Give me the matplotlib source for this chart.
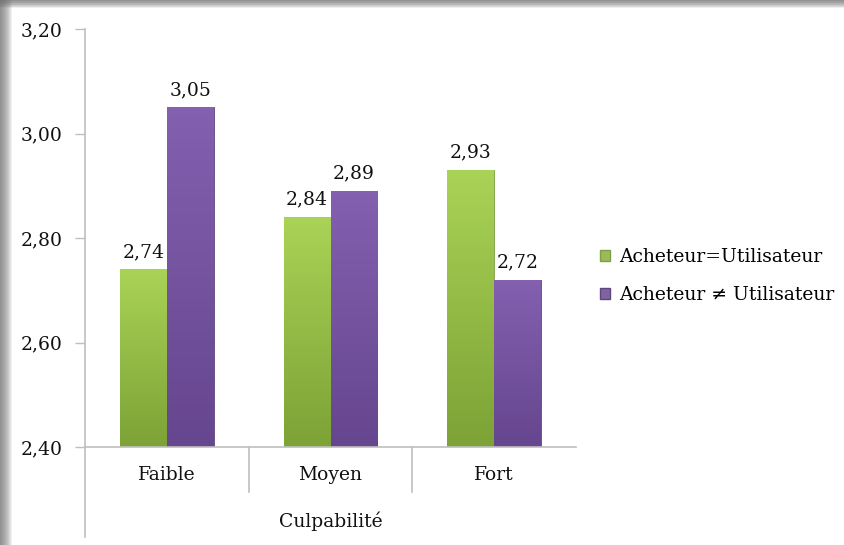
import matplotlib
matplotlib.use("Agg")
import matplotlib.pyplot as plt
import numpy as np
from matplotlib.patches import Rectangle, Patch
from matplotlib.transforms import blended_transform_factory

categories = ["Faible", "Moyen", "Fort"]
same_user = [2.74, 2.84, 2.93]
diff_user = [3.05, 2.89, 2.72]
series_names = ["Acheteur=Utilisateur", "Acheteur \u2260 Utilisateur"]
yticks = [2.40, 2.60, 2.80, 3.00, 3.20]

plt.rcParams['font.family'] = ['DejaVu Serif']
FS = 13.5
TXT = '#111111'

W, H = 844, 545
fig = plt.figure(figsize=(W / 100, H / 100), dpi=100)
fig.patch.set_facecolor('#ffffff')

# grey shadow frame on top and left
for i in range(12):
    fig.patches.append(Rectangle((0, 0), (12 - i) / W, 1, transform=fig.transFigure,
                                 facecolor='#707070', alpha=0.1, edgecolor='none', zorder=0))
    fig.patches.append(Rectangle((0, 1 - (8 - i * 0.66) / H), 1, (8 - i * 0.66) / H,
                                 transform=fig.transFigure, facecolor='#707070', alpha=0.1,
                                 edgecolor='none', zorder=0))

ax = fig.add_axes([85 / W, 1 - 447 / H, (576 - 85) / W, (447 - 29) / H])
x = np.arange(len(categories))
bw = 0.287
green = ax.bar(x - bw / 2, same_user, bw, color='#9bbb59', edgecolor='#7f9f42', linewidth=0.6, zorder=2)
purple = ax.bar(x + bw / 2, diff_user, bw, color='#8064a2', edgecolor='#5e467f', linewidth=0.6, zorder=2)

def shade(bars, top, bottom):
    c1 = np.array(matplotlib.colors.to_rgb(top))
    c2 = np.array(matplotlib.colors.to_rgb(bottom))
    t = np.linspace(0, 1, 64)[:, None]
    grad = (c1 * (1 - t) + c2 * t)[:, None, :]
    for b in bars:
        bx = b.get_x()
        im = ax.imshow(grad, extent=[bx, bx + b.get_width(), 2.40, b.get_height()],
                       aspect='auto', origin='upper', zorder=2.5)
        im.set_clip_path(b)

shade(green, '#a9d356', '#7da236')
shade(purple, '#8360b0', '#66468e')

ax.set_ylim(2.40, 3.20)
ax.set_xlim(-0.5, 2.5)
ax.set_yticks(yticks)
ax.set_yticklabels([f"{v:.2f}".replace('.', ',') for v in yticks], fontsize=FS, color=TXT)
ax.set_xticks(x)
ax.set_xticklabels(categories, fontsize=FS, color=TXT)
ax.tick_params(axis='y', length=7, width=1, color='#bfbfbf', pad=9)
ax.tick_params(axis='x', length=0, pad=14)
for s in ['top', 'right']:
    ax.spines[s].set_visible(False)
for s in ['left', 'bottom']:
    ax.spines[s].set_color('#bfbfbf')
    ax.spines[s].set_linewidth(1.2)

# value labels
for bars, vals in [(green, same_user), (purple, diff_user)]:
    for b, v in zip(bars, vals):
        ax.annotate(f"{v:.2f}".replace('.', ','), (b.get_x() + b.get_width() / 2, v),
                    xytext=(0, 6), textcoords='offset points', ha='center', va='bottom',
                    fontsize=FS, color=TXT)

# category separators and extended axis line
tr = blended_transform_factory(ax.transData, ax.transAxes)
for xs in [0.5, 1.5]:
    ax.plot([xs, xs], [0, -45 / 418], transform=tr, color='#bfbfbf', lw=1.2, clip_on=False)
ax.plot([-0.5, -0.5], [0, -90 / 418], transform=tr, color='#bfbfbf', lw=1.2, clip_on=False)

fig.text(330.5 / W, 1 - 521 / H, "Culpabilité", ha='center', va='center', fontsize=FS, color=TXT)

handles = [Patch(facecolor='#9bbb59', edgecolor='#7f9f42'), Patch(facecolor='#8064a2', edgecolor='#5e467f')]
fig.legend(handles, series_names, loc='center left', bbox_to_anchor=(600 / W, 1 - 276 / H),
           frameon=False, fontsize=FS, handlelength=0.55, handleheight=0.55, handletextpad=0.45,
           labelspacing=1.05, borderaxespad=0, borderpad=0)

fig.savefig("out.png", dpi=100)
